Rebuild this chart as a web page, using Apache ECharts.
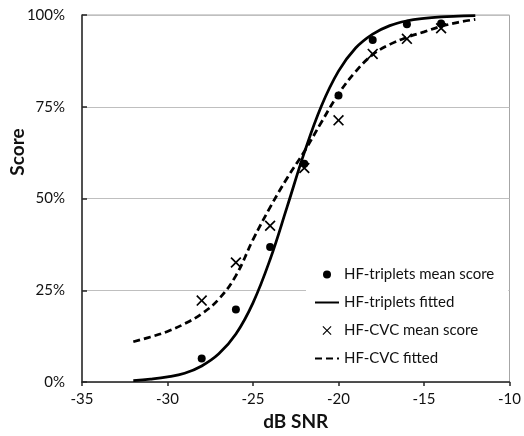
<!DOCTYPE html>
<html>
<head>
<meta charset="utf-8">
<script src="https://cdn.jsdelivr.net/npm/echarts@6/dist/echarts.min.js"></script>
<style>html,body{margin:0;padding:0;background:#fff}#c{width:524px;height:436px}</style>
</head>
<body>
<div id="c"></div>
<script>
// Measured points (dB SNR, score %)
var snrPoints = [-28, -26, -24, -22, -20, -18, -16, -14];
var tripletsMean = [6.4, 19.8, 36.8, 59.5, 78.1, 93.2, 97.5, 97.7];
var cvcMean = [22.2, 32.6, 42.6, 58.3, 71.3, 89.4, 93.5, 96.4];
// Fitted curves at each dB
var snrCurve = [-32, -31, -30, -29, -28, -27, -26, -25, -24, -23, -22, -21, -20, -19, -18, -17, -16, -15, -14, -13, -12];
var tripletsFitted = [0.4, 0.8, 1.4, 2.4, 4.4, 7.7, 13.1, 21.6, 33.4, 47.8, 62.5, 75.2, 84.7, 91.0, 94.8, 97.1, 98.4, 99.1, 99.5, 99.7, 99.85];
var cvcFitted = [11.0, 12.3, 13.8, 15.9, 18.6, 22.6, 29.0, 38.8, 47.6, 55.6, 62.8, 70.8, 78.5, 84.6, 89.2, 92.0, 93.9, 95.4, 96.9, 98.0, 98.8];
var xTicks = [-35, -30, -25, -20, -15, -10];
var yTicks = [0, 25, 50, 75, 100];
var seriesNames = ['HF-triplets mean score', 'HF-triplets fitted', 'HF-CVC mean score', 'HF-CVC fitted'];

function pairs(xs, ys) { return xs.map(function (x, i) { return [x, ys[i]]; }); }

var FONT = 'Lato';
var TXT = '#111';
var crossPath = 'path://M0,1.1 L1.1,0 L5,3.9 L8.9,0 L10,1.1 L6.1,5 L10,8.9 L8.9,10 L5,6.1 L1.1,10 L0,8.9 L3.9,5 Z';
// legend icons: small glyph centred in a 24x14 box (corner points fix the box)
var legendDot = 'path://M0,0 L0,0 M24,14 L24,14 M8,7 A4,4 0 1,0 16,7 A4,4 0 1,0 8,7 Z';
var legendCross = 'path://M0,0 L0,0 M24,14 L24,14 M7.5,3.3 L8.3,2.5 L12,6.2 L15.7,2.5 L16.5,3.3 L12.8,7 L16.5,10.7 L15.7,11.5 L12,7.8 L8.3,11.5 L7.5,10.7 L11.2,7 Z';

var chart = echarts.init(document.getElementById('c'), null, { renderer: 'canvas' });
chart.setOption({
  animation: false,
  backgroundColor: '#fff',
  grid: { left: 82, right: 13, top: 15, bottom: 53, show: true, borderColor: '#a6a6a6', borderWidth: 1, backgroundColor: 'transparent' },
  xAxis: {
    type: 'value', min: xTicks[0], max: xTicks[xTicks.length - 1], interval: 5,
    name: 'dB SNR', nameLocation: 'middle', nameGap: 28,
    nameTextStyle: { fontFamily: FONT, fontWeight: 'bold', fontSize: 19, color: TXT },
    axisLine: { show: true, lineStyle: { color: '#262626', width: 1.5 } },
    axisTick: { show: true, inside: false, length: 4, lineStyle: { color: '#262626', width: 1.5 } },
    axisLabel: { fontFamily: FONT, fontSize: 15, color: TXT, margin: 10 },
    splitLine: { show: false }
  },
  yAxis: {
    type: 'value', min: yTicks[0], max: yTicks[yTicks.length - 1], interval: 25,
    axisLine: { show: true, lineStyle: { color: '#262626', width: 1.5 } },
    axisTick: { show: true, inside: true, length: 5, lineStyle: { color: '#262626', width: 1.5 } },
    axisLabel: { fontFamily: FONT, fontSize: 15, color: TXT, margin: 17, formatter: '{value}%' },
    splitLine: { show: true, lineStyle: { color: '#bfbfbf', width: 1 } }
  },
  legend: {
    orient: 'vertical', left: 306, top: 259,
    backgroundColor: '#fff', padding: [8, 14, 8, 8],
    itemWidth: 24, itemHeight: 14, itemGap: 13,
    textStyle: { fontFamily: FONT, fontSize: 15, color: TXT },
    data: [
      { name: seriesNames[0], icon: legendDot },
      { name: seriesNames[1], itemStyle: { opacity: 0 } },
      { name: seriesNames[2], icon: legendCross },
      { name: seriesNames[3], itemStyle: { opacity: 0 } }
    ]
  },
  graphic: [{
    type: 'text', x: 18, y: 152, rotation: Math.PI / 2,
    style: { text: 'Score', fontFamily: FONT, fontWeight: 'bold', fontSize: 19, fill: TXT, align: 'center', verticalAlign: 'middle' }
  }],
  series: [
    {
      name: seriesNames[0], type: 'scatter', data: pairs(snrPoints, tripletsMean),
      symbol: 'circle', symbolSize: 8, itemStyle: { color: '#000', opacity: 1 }, z: 5
    },
    {
      name: seriesNames[1], type: 'line', data: pairs(snrCurve, tripletsFitted),
      smooth: 0.4, symbol: 'none', lineStyle: { color: '#000', width: 2.75, type: 'solid' }, itemStyle: { color: '#000' }, z: 3
    },
    {
      name: seriesNames[2], type: 'scatter', data: pairs(snrPoints, cvcMean),
      symbol: crossPath, symbolSize: 11, itemStyle: { color: '#000', opacity: 1 }, z: 5
    },
    {
      name: seriesNames[3], type: 'line', data: pairs(snrCurve, cvcFitted),
      smooth: 0.4, symbol: 'none', lineStyle: { color: '#000', width: 2.75, type: [7, 4] }, itemStyle: { color: '#000' }, z: 3
    }
  ]
});
</script>
</body>
</html>
